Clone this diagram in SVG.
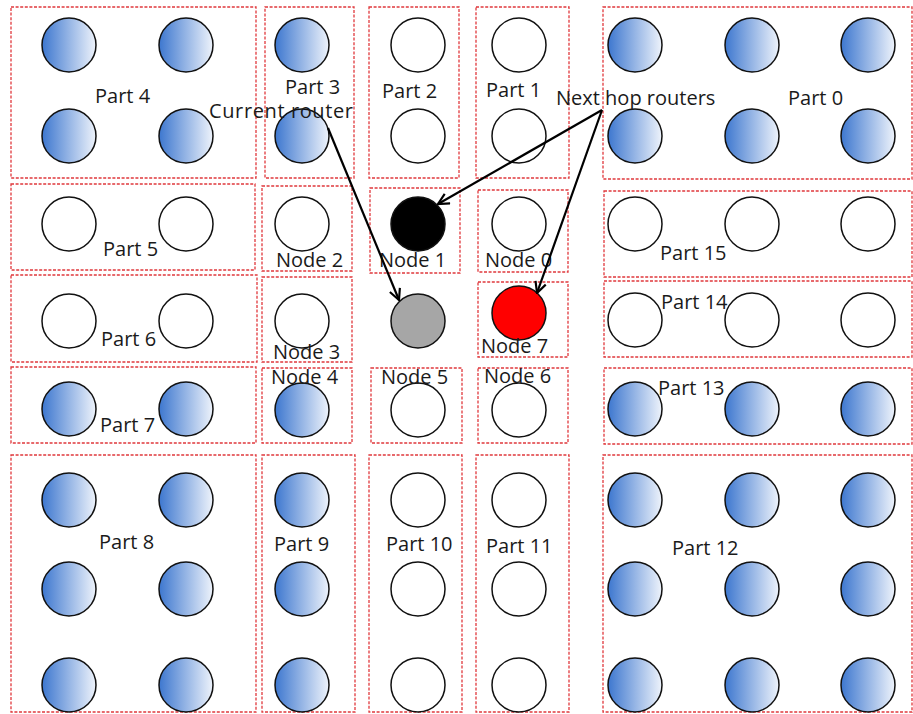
<svg xmlns="http://www.w3.org/2000/svg" width="913" height="714" viewBox="0 0 913 714">
<defs>
<linearGradient id="blue" x1="0" y1="0" x2="1" y2="0">
<stop offset="0" stop-color="#3d77cf"/>
<stop offset="1" stop-color="#eef3fb"/>
</linearGradient>
<marker id="arr" viewBox="0 0 12 12" refX="11" refY="6" markerWidth="13" markerHeight="13" markerUnits="userSpaceOnUse" orient="auto">
<path d="M1,1 L11,6 L1,11" fill="none" stroke="#000" stroke-width="2"/>
</marker>
</defs>
<style>
.box{fill:none;stroke:#e0383c;stroke-width:1.3;stroke-dasharray:3 1.6}
.b{fill:url(#blue);stroke:#111;stroke-width:1.5}
.w{fill:#fff;stroke:#111;stroke-width:1.5}
.k{fill:#000;stroke:#111;stroke-width:1.5}
.g{fill:#a6a6a6;stroke:#111;stroke-width:1.5}
.r{fill:#ff0000;stroke:#111;stroke-width:1.5}
text{font-family:"Open Sans","Liberation Sans",sans-serif;font-size:20px;fill:#1a1a1a}
.conn{stroke:#000;stroke-width:2.2;fill:none;marker-end:url(#arr)}
</style>
<rect width="913" height="714" fill="#fff"/>

<g id="part4"><rect class="box" x="11" y="7" width="245" height="171"/>
<circle class="b" cx="69" cy="45" r="27"/><circle class="b" cx="186" cy="45" r="27"/>
<circle class="b" cx="69" cy="136" r="27"/><circle class="b" cx="186" cy="136" r="27"/>
<text x="95" y="103">Part 4</text></g>

<g id="part3"><rect class="box" x="265" y="7" width="89" height="171"/>
<circle class="b" cx="302" cy="45" r="27"/><circle class="b" cx="302" cy="136" r="27"/>
<text x="285" y="94">Part 3</text></g>

<g id="part2"><rect class="box" x="369" y="7" width="90" height="171"/>
<circle class="w" cx="418" cy="45" r="27"/><circle class="w" cx="418" cy="136" r="27"/>
<text x="382" y="98">Part 2</text></g>

<g id="part1"><rect class="box" x="476" y="7" width="93" height="171"/>
<circle class="w" cx="519" cy="45" r="27"/><circle class="w" cx="519" cy="136" r="27"/>
<text x="486" y="97">Part 1</text></g>

<g id="part0"><rect class="box" x="603" y="7" width="309" height="172"/>
<circle class="b" cx="635" cy="45" r="27"/><circle class="b" cx="752" cy="45" r="27"/><circle class="b" cx="868" cy="45" r="27"/>
<circle class="b" cx="635" cy="136" r="27"/><circle class="b" cx="752" cy="136" r="27"/><circle class="b" cx="868" cy="136" r="27"/>
<text x="788" y="105">Part 0</text></g>

<g id="part5"><rect class="box" x="11" y="184" width="244" height="86"/>
<circle class="w" cx="69" cy="224" r="27"/><circle class="w" cx="186" cy="224" r="27"/>
<text x="103" y="256">Part 5</text></g>

<g id="node2"><rect class="box" x="262" y="186" width="90" height="85"/>
<circle class="w" cx="302" cy="224" r="27"/>
<text x="276" y="267">Node 2</text></g>

<g id="node1"><rect class="box" x="370" y="188" width="90" height="85"/>
<circle class="k" cx="418" cy="224" r="27"/>
<text x="379" y="267">Node 1</text></g>

<g id="node0"><rect class="box" x="478" y="190" width="90" height="82"/>
<circle class="w" cx="519" cy="224" r="27"/>
<text x="485" y="267">Node 0</text></g>

<g id="part15"><rect class="box" x="604" y="191" width="308" height="86"/>
<circle class="w" cx="635" cy="224" r="27"/><circle class="w" cx="752" cy="224" r="27"/><circle class="w" cx="868" cy="224" r="27"/>
<text x="660" y="260">Part 15</text></g>

<g id="part6"><rect class="box" x="11" y="275" width="246" height="87"/>
<circle class="w" cx="69" cy="321" r="27"/><circle class="w" cx="186" cy="321" r="27"/>
<text x="101" y="346">Part 6</text></g>

<g id="node3"><rect class="box" x="262" y="277" width="90" height="85"/>
<circle class="w" cx="302" cy="321" r="27"/>
<text x="273" y="359">Node 3</text></g>

<g id="current"><circle class="g" cx="418" cy="321" r="27"/></g>

<g id="node7"><rect class="box" x="478" y="282" width="90" height="75"/>
<circle class="r" cx="519" cy="313" r="27"/>
<text x="481" y="353">Node 7</text></g>

<g id="part14"><rect class="box" x="604" y="281" width="308" height="76"/>
<circle class="w" cx="635" cy="320" r="27"/><circle class="w" cx="752" cy="320" r="27"/><circle class="w" cx="868" cy="320" r="27"/>
<text x="661" y="309">Part 14</text></g>

<g id="part7"><rect class="box" x="11" y="367" width="245" height="76"/>
<circle class="b" cx="69" cy="409" r="27"/><circle class="b" cx="186" cy="409" r="27"/>
<text x="100" y="432">Part 7</text></g>

<g id="node4"><rect class="box" x="262" y="368" width="90" height="75"/>
<circle class="b" cx="302" cy="410" r="27"/>
<text x="271" y="384">Node 4</text></g>

<g id="node5"><rect class="box" x="371" y="368" width="91" height="75"/>
<circle class="w" cx="418" cy="410" r="27"/>
<text x="381" y="384">Node 5</text></g>

<g id="node6"><rect class="box" x="478" y="368" width="90" height="75"/>
<circle class="w" cx="519" cy="410" r="27"/>
<text x="484" y="383">Node 6</text></g>

<g id="part13"><rect class="box" x="604" y="368" width="308" height="76"/>
<circle class="b" cx="635" cy="409" r="27"/><circle class="b" cx="752" cy="409" r="27"/><circle class="b" cx="868" cy="409" r="27"/>
<text x="658" y="395">Part 13</text></g>

<g id="part8"><rect class="box" x="11" y="455" width="245" height="257"/>
<circle class="b" cx="69" cy="500" r="27"/><circle class="b" cx="186" cy="500" r="27"/>
<circle class="b" cx="69" cy="589" r="27"/><circle class="b" cx="186" cy="589" r="27"/>
<circle class="b" cx="69" cy="685" r="27"/><circle class="b" cx="186" cy="685" r="27"/>
<text x="99" y="549">Part 8</text></g>

<g id="part9"><rect class="box" x="262" y="455" width="93" height="257"/>
<circle class="b" cx="302" cy="500" r="27"/><circle class="b" cx="302" cy="589" r="27"/><circle class="b" cx="302" cy="685" r="27"/>
<text x="274" y="551">Part 9</text></g>

<g id="part10"><rect class="box" x="369" y="455" width="93" height="257"/>
<circle class="w" cx="418" cy="500" r="27"/><circle class="w" cx="418" cy="589" r="27"/><circle class="w" cx="418" cy="685" r="27"/>
<text x="386" y="551">Part 10</text></g>

<g id="part11"><rect class="box" x="476" y="455" width="93" height="257"/>
<circle class="w" cx="519" cy="500" r="27"/><circle class="w" cx="519" cy="589" r="27"/><circle class="w" cx="519" cy="685" r="27"/>
<text x="486" y="553">Part 11</text></g>

<g id="part12"><rect class="box" x="603" y="455" width="309" height="257"/>
<circle class="b" cx="635" cy="500" r="27"/><circle class="b" cx="752" cy="500" r="27"/><circle class="b" cx="868" cy="500" r="27"/>
<circle class="b" cx="635" cy="589" r="27"/><circle class="b" cx="752" cy="589" r="27"/><circle class="b" cx="868" cy="589" r="27"/>
<circle class="b" cx="635" cy="685" r="27"/><circle class="b" cx="752" cy="685" r="27"/><circle class="b" cx="868" cy="685" r="27"/>
<text x="672" y="555">Part 12</text></g>

<g id="labels">
<text x="209" y="118" textLength="144" lengthAdjust="spacing">Current router</text>
<text x="556" y="105">Next hop routers</text>
</g>

<g id="connectors">
<line class="conn" x1="328" y1="128" x2="399" y2="300"/>
<line class="conn" x1="602" y1="110" x2="438" y2="204"/>
<line class="conn" x1="602" y1="110" x2="537" y2="293"/>
</g>
</svg>
